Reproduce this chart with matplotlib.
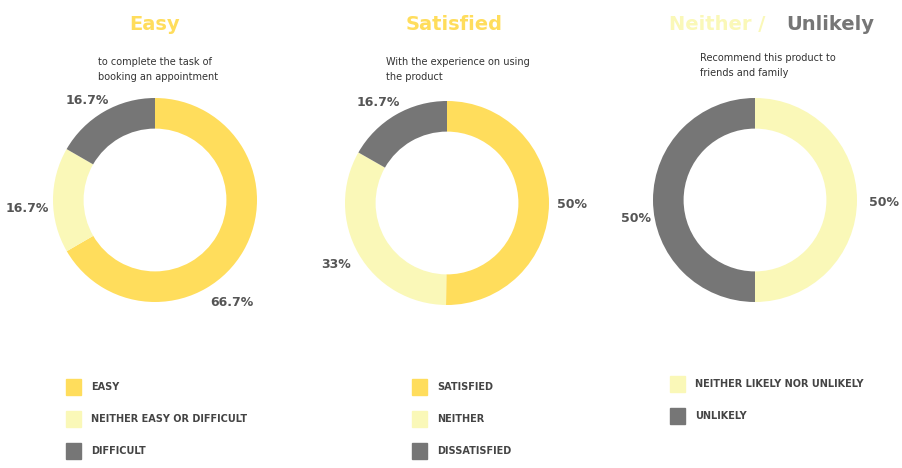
import matplotlib.pyplot as plt

W, H = 902, 468
yellow = '#FFDD5C'
light = '#FAF8B8'
gray = '#767676'

titles = ['Easy', 'Satisfied', 'Neither /']
subtitles = ['to complete the task of\nbooking an appointment',
             'With the experience on using\nthe product',
             'Recommend this product to\nfriends and family']
values = [[66.7, 16.7, 16.7], [50, 33, 16.7], [50, 50]]
pct_labels = [['66.7%', '16.7%', '16.7%'], ['50%', '33%', '16.7%'], ['50%', '50%']]
legends = [['EASY', 'NEITHER EASY OR DIFFICULT', 'DIFFICULT'],
           ['SATISFIED', 'NEITHER', 'DISSATISFIED'],
           ['NEITHER LIKELY NOR UNLIKELY', 'UNLIKELY']]
colors = [[yellow, light, gray], [yellow, light, gray], [light, gray]]

centers = [(155, 200), (447, 203), (755, 200)]
radius = 102
label_pos = [[(232, 302), (27, 208), (87, 100)],
             [(572, 205), (336, 265), (378, 103)],
             [(884, 202), (636, 218)]]
title_x = [155, 454, 717]
sub_x = [98, 386, 700]
sub_y = [57, 57, 53]
leg_x = [66, 412, 670]
leg_y0 = [387, 387, 384]
leg_dy = [32, 32, 32]

fig = plt.figure(figsize=(W / 100, H / 100), dpi=100)

def fx(x): return x / W
def fy(y): return 1 - y / H

for i in range(3):
    cx, cy = centers[i]
    ax = fig.add_axes([fx(cx - radius), fy(cy + radius), 2 * radius / W, 2 * radius / H])
    ax.pie(values[i], colors=colors[i], startangle=90, counterclock=False,
           radius=1, wedgeprops=dict(width=0.22 * 1.0 + 0.08, edgecolor='none'))
    ax.set_xlim(-1, 1); ax.set_ylim(-1, 1)
    ax.set_aspect('auto'); ax.axis('off')
    for lab, (lx, ly) in zip(pct_labels[i], label_pos[i]):
        fig.text(fx(lx), fy(ly), lab, ha='center', va='center', fontsize=9,
                 fontweight='bold', color='#555555')
    fig.text(fx(sub_x[i]), fy(sub_y[i]), subtitles[i], ha='left', va='top',
             fontsize=7, color='#333333', linespacing=1.6)
    for j, name in enumerate(legends[i]):
        y = leg_y0[i] + j * leg_dy[i]
        fig.patches.append(plt.Rectangle((fx(leg_x[i]), fy(y + 8)), 15 / W, 16 / H,
                                         transform=fig.transFigure, color=colors[i][j]))
        fig.text(fx(leg_x[i] + 25), fy(y), name, ha='left', va='center',
                 fontsize=7, fontweight='bold', color='#444444')

fig.text(fx(title_x[0]), fy(25), titles[0], ha='center', va='center', fontsize=14,
         fontweight='bold', color=yellow)
fig.text(fx(title_x[1]), fy(25), titles[1], ha='center', va='center', fontsize=14,
         fontweight='bold', color=yellow)
fig.text(fx(title_x[2]), fy(25), titles[2], ha='center', va='center', fontsize=14,
         fontweight='bold', color=light)
fig.text(fx(830), fy(25), 'Unlikely', ha='center', va='center', fontsize=14,
         fontweight='bold', color=gray)

fig.savefig('out.png', dpi=100)
